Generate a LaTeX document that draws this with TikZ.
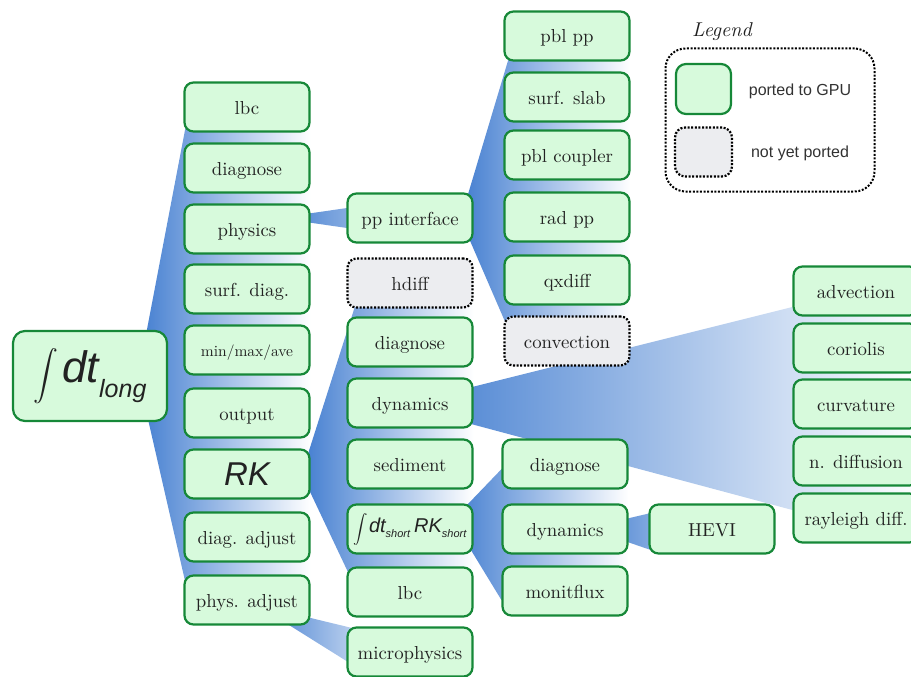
\documentclass[tikz,border=0pt]{standalone}
\usepackage{exscale}
\usepackage{fontspec}
\setmainfont{lmroman10-regular}[Extension=.otf, ItalicFont=lmroman10-italic, BoldFont=lmroman10-bold]
\newfontfamily\hv{Liberation Sans}
\usetikzlibrary{calc}
\definecolor{gfill}{RGB}{215,250,220}
\definecolor{gbord}{RGB}{22,136,56}
\definecolor{grayfill}{RGB}{236,237,240}
\definecolor{wblue}{RGB}{66,125,208}
\definecolor{txt}{RGB}{34,34,34}
\definecolor{legtxt}{RGB}{50,50,50}
\pgfdeclarelayer{bg}
\pgfsetlayers{bg,main}
\tikzset{
  box/.style={rounded corners=9pt, draw=gbord, fill=gfill, line width=2.2pt,
    minimum width=125pt, minimum height=49pt, inner sep=0pt,
    text height=14pt, text depth=0pt,
    font=\fontsize{18.8}{20}\selectfont, text=txt},
  free/.style={text height={}, text depth={}},
  todo/.style={box, draw=black, fill=grayfill, line width=2.2pt,
    dash pattern=on 2pt off 1.6pt},
  wedge/.style={draw=none, left color=wblue, right color=white},
  legendtext/.style={font=\hv\fontsize{16}{18}\selectfont, text=legtxt}
}
\begin{document}
\begin{tikzpicture}[x=1pt,y=-1pt]
\useasboundingbox (0,0) rectangle (911,677);

% root
\node[box, free, minimum width=154pt, minimum height=90pt, rounded corners=12pt] (root) at (90,376)
  {{\fontsize{28}{30}\selectfont$\displaystyle\int$}\hspace{4pt}{\hv\itshape\fontsize{44}{46}\selectfont dt\raisebox{-15pt}{\fontsize{25}{27}\selectfont long}}};

% column 2
\node[box] (c2lbc)   at (247,107) {lbc};
\node[box] (c2diag)  at (247,168) {diagnose};
\node[box] (physics) at (247,229) {physics};
\node[box] (surfdiag) at (247,289) {surf. diag.};
\node[box, font=\fontsize{15.5}{17}\selectfont, text height=12pt] (minmax) at (247,350) {min/max/ave};
\node[box] (output)  at (247,413) {output};
\node[box, free] (rk) at (247,474) {\hv\itshape\fontsize{33}{36}\selectfont RK};
\node[box] (diagadj) at (247,537) {diag. adjust};
\node[box] (padj)    at (247,600) {phys. adjust};

% column 3
\node[box]  (pp)       at (410,218) {pp interface};
\node[todo] (hdiff)    at (410,283) {hdiff};
\node[box]  (c3diag)   at (410,342) {diagnose};
\node[box]  (c3dyn)    at (410,403) {dynamics};
\node[box]  (sediment) at (410,464) {sediment};
\node[box, free] (intshort) at (410,529)
  {{\fontsize{14}{16}\selectfont$\displaystyle\int$}\hspace{1pt}{\hv\itshape\fontsize{20}{22}\selectfont dt\raisebox{-5pt}{\fontsize{11}{12}\selectfont short}\hspace{4pt}RK\raisebox{-5pt}{\fontsize{11}{12}\selectfont short}}};
\node[box]  (c3lbc)    at (410,592) {lbc};
\node[box]  (micro)    at (410,652) {microphysics};

% column 4 (top)
\node[box]  (pblpp)      at (567,36)  {pbl pp};
\node[box]  (surfslab)   at (567,97)  {surf. slab};
\node[box]  (pblcoupler) at (567,155) {pbl coupler};
\node[box]  (radpp)      at (567,217) {rad pp};
\node[box]  (qxdiff)     at (567,280) {qxdiff};
\node[todo] (conv)       at (567,341) {convection};

% column 4 (bottom)
\node[box] (c4diag) at (565,464) {diagnose};
\node[box] (c4dyn)  at (565,529) {dynamics};
\node[box] (monit)  at (565,591) {monitflux};
\node[box] (hevi)   at (712,529) {HEVI};

% column 5
\node[box] (adv)   at (856,291) {advection};
\node[box] (cor)   at (856,348) {coriolis};
\node[box] (curv)  at (856,404) {curvature};
\node[box] (ndiff) at (856,461) {n. diffusion};
\node[box] (ray)   at (856,518) {rayleigh diff.};

% legend
\node[anchor=base, font=\fontsize{20}{22}\selectfont\itshape, text=txt] (legtitle) at (722,37) {Legend};
\node[draw=black, line width=2pt, dash pattern=on 2pt off 1.6pt, rounded corners=20pt,
      minimum width=209pt, minimum height=143pt] (legbox) at (770,120) {};
\node[box, minimum width=55pt, minimum height=50pt, rounded corners=10pt] (legg) at (703.5,89) {};
\node[todo, minimum width=57pt, minimum height=49pt, rounded corners=10pt] (legn) at (703.5,152) {};
\node[legendtext] (legglab) at (800,91) {ported to GPU};
\node[legendtext] (legnlab) at (800,153) {not yet ported};

% wedges behind the boxes
\begin{pgfonlayer}{bg}
  % root -> column 2
  \shade[wedge] ($(root.east)+(-30,0)$) -- ($(c2lbc.west)+(6,0)$) -- (c2lbc.east)
     -- (padj.east) -- ($(padj.west)+(6,0)$) -- cycle;
  % physics -> pp interface
  \shade[wedge] ($(pp.west)+(-69,0)$) -- ($(pp.center)+(0,-19)$) -- ($(pp.east)+(0,-19)$)
     -- ($(pp.east)+(0,19)$) -- ($(pp.center)+(0,19)$) -- cycle;
  % pp interface -> column 4 top
  \shade[wedge] ($(pp.east)+(-13,1)$) -- ($(pblpp.west)+(12,0)$) -- (pblpp.east)
     -- (conv.east) -- ($(conv.west)+(10,0)$) -- cycle;
  % RK -> column 3
  \shade[wedge] ($(rk.east)+(-9,0)$) -- ($(hdiff.west)+(16,0)$) -- (hdiff.east)
     -- (c3lbc.east) -- ($(c3lbc.west)+(11,0)$) -- cycle;
  % phys. adjust -> microphysics
  \shade[wedge] ($(padj.center)+(10,5)$) -- ($(micro.center)+(0,-10)$)
     -- ($(micro.center)+(0,25)$) -- ($(micro.center)+(-38,25)$) -- cycle;
  % int short -> column 4 bottom
  \shade[wedge] ($(intshort.east)+(-21,-9)$) -- ($(c4diag.west)+(5,0)$) -- (c4diag.east)
     -- ($(monit.east)+(0,9)$) -- ($(monit.west)+(0,9)$) -- cycle;
  % dynamics -> HEVI
  \shade[wedge] ($(c4dyn.center)+(22,-1)$) -- ($(hevi.west)+(11,-18)$) -- ($(hevi.east)+(0,-18)$)
     -- ($(hevi.east)+(0,24)$) -- ($(hevi.west)+(11,24)$) -- cycle;
  % dynamics -> column 5
  \shade[wedge] ($(c3dyn.center)+(-10,2)$) -- ($(adv.west)+(0,16)$) -- ($(adv.east)+(0,16)$)
     -- ($(ray.east)+(0,-8)$) -- ($(ray.west)+(0,-8)$) -- cycle;
\end{pgfonlayer}
\end{tikzpicture}
\end{document}
